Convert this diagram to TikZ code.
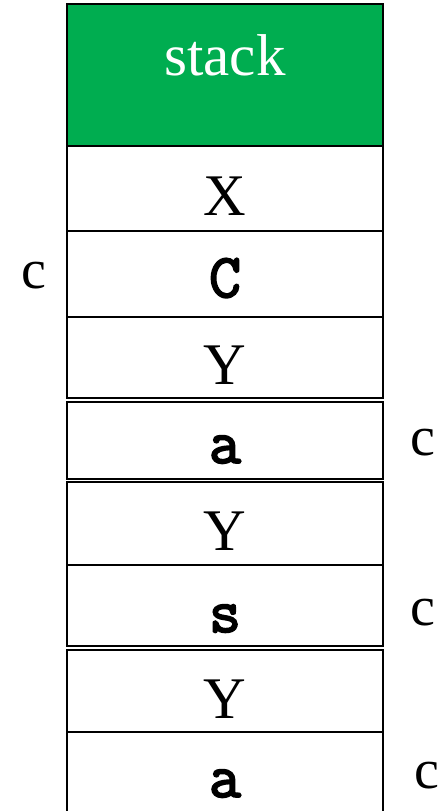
\documentclass[tikz,border=0pt]{standalone}
\usepackage{fontspec}
\setmainfont{Liberation Serif}
\newfontfamily\courbold[FakeBold=3]{Latin Modern Mono}
\definecolor{stackgreen}{RGB}{0,173,80}
\tikzset{
  cellbox/.style={draw=black, line width=1.5pt, fill=white, minimum width=316pt, inner sep=0pt},
  sertext/.style={anchor=base, inner sep=0pt, font=\fontsize{59}{59}\selectfont},
  montext/.style={anchor=base, inner sep=0pt, font=\fontsize{62}{62}\selectfont\courbold},
  sidetext/.style={anchor=base, inner sep=0pt, font=\fontsize{56}{56}\selectfont},
}
\begin{document}
\begin{tikzpicture}[x=1pt,y=-1pt]
\useasboundingbox (0,0) rectangle (443,811);
\clip (0,0) rectangle (443,811);
% header
\node[cellbox, fill=stackgreen, minimum height=142pt] (hdr) at (225,75) {};
\node[sertext, text=white] (hdrt) at (225,75) {stack};
% cells
\node[cellbox, minimum height=85pt] (c1) at (225,188.5) {};
\node[sertext] (t1) at (225,215) {X};
\node[cellbox, minimum height=86pt] (c2) at (225,274) {};
\node[montext] (t2) at (225,297) {C};
\node[cellbox, minimum height=81pt] (c3) at (225,357.5) {};
\node[sertext] (t3) at (225,384) {Y};
\node[cellbox, minimum height=77pt] (c4) at (225,440.5) {};
\node[montext] (t4) at (225,463) {a};
\node[cellbox, minimum height=83pt] (c5) at (225,523.5) {};
\node[sertext] (t5) at (225,550) {Y};
\node[cellbox, minimum height=81pt] (c6) at (225,605.5) {};
\node[montext] (t6) at (225,632) {s};
\node[cellbox, minimum height=82pt] (c7) at (225,691) {};
\node[sertext] (t7) at (225,718) {Y};
\node[cellbox, minimum height=86pt] (c8) at (225,775) {};
\node[montext] (t8) at (225,797) {a};
% side labels
\node[sidetext] (l1) at (34,288) {c};
\node[sidetext] (r1) at (423,455) {c};
\node[sidetext] (r2) at (423,625) {c};
\node[sidetext] (r3) at (427,788) {c};
\end{tikzpicture}
\end{document}
